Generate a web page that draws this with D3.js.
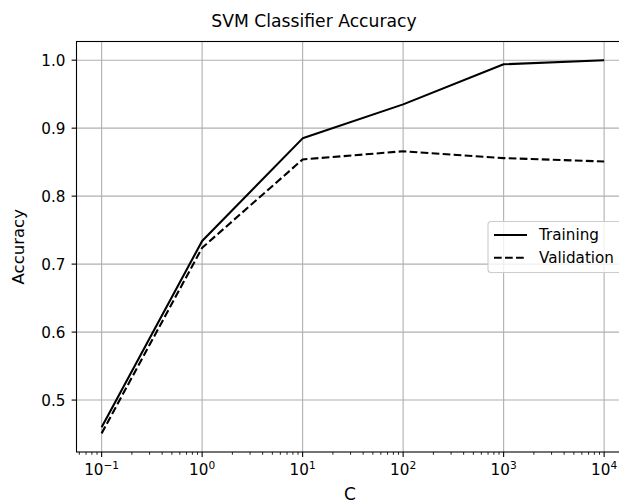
<!DOCTYPE html>
<html>
<head>
<meta charset="utf-8">
<script src="https://cdn.jsdelivr.net/npm/d3@7"></script>
<style>
  html, body { margin: 0; padding: 0; background: #fff; }
  svg { display: block; font-family: "DejaVu Sans", sans-serif; }
</style>
</head>
<body>
<svg id="chart" width="619" height="504"></svg>
<script>
// Regularisation strength C and the accuracy of the SVM at each value
const cValues = [0.1, 1, 10, 100, 1000, 10000];
const trainingAcc = [0.460, 0.734, 0.885, 0.935, 0.994, 1.000];
const validationAcc = [0.451, 0.724, 0.854, 0.866, 0.856, 0.851];
const yTicks = [0.5, 0.6, 0.7, 0.8, 0.9, 1.0];
const xTickExponents = [-1, 0, 1, 2, 3, 4];
const seriesNames = ["Training", "Validation"];

const svg = d3.select("#chart");
const plot = { left: 76.5, right: 629.25, top: 41.5, bottom: 452 };

const x = d3.scaleLog().domain([Math.pow(10, -1.25), Math.pow(10, 4.25)])
  .range([plot.left, plot.right]);
const y = d3.scaleLinear().domain([0.4236, 1.0275]).range([plot.bottom, plot.top]);

const gridColor = "#b0b0b0";
const tickFont = 15.2;

// grid lines
const grid = svg.append("g");
xTickExponents.forEach(e => {
  const px = x(Math.pow(10, e));
  grid.append("line").attr("x1", px).attr("x2", px)
    .attr("y1", plot.top).attr("y2", plot.bottom)
    .attr("stroke", gridColor).attr("stroke-width", 1.1);
});
yTicks.forEach(v => {
  grid.append("line").attr("x1", plot.left).attr("x2", plot.right)
    .attr("y1", y(v)).attr("y2", y(v))
    .attr("stroke", gridColor).attr("stroke-width", 1.1);
});

// series lines
const line = d3.line().x(d => x(d[0])).y(d => y(d[1]));
const trainPts = cValues.map((c, i) => [c, trainingAcc[i]]);
const valPts = cValues.map((c, i) => [c, validationAcc[i]]);
svg.append("path").datum(trainPts).attr("d", line)
  .attr("fill", "none").attr("stroke", "#000").attr("stroke-width", 2.1)
  .attr("stroke-linejoin", "round");
svg.append("path").datum(valPts).attr("d", line)
  .attr("fill", "none").attr("stroke", "#000").attr("stroke-width", 2.1)
  .attr("stroke-dasharray", "7.7,3.33");

// spines
const spines = svg.append("g").attr("stroke", "#000").attr("stroke-width", 1.1)
  .attr("fill", "none");
spines.append("rect").attr("x", plot.left).attr("y", plot.top)
  .attr("width", plot.right - plot.left).attr("height", plot.bottom - plot.top);

// x axis ticks
const xAxis = svg.append("g");
const minor = [];
for (let e = -2; e <= 4; e++) {
  for (let k = 2; k <= 9; k++) {
    const v = k * Math.pow(10, e);
    if (x(v) >= plot.left && x(v) <= plot.right) minor.push(v);
  }
}
minor.forEach(v => {
  xAxis.append("line").attr("x1", x(v)).attr("x2", x(v))
    .attr("y1", plot.bottom).attr("y2", plot.bottom + 2.8)
    .attr("stroke", "#000").attr("stroke-width", 0.84);
});
xTickExponents.forEach(e => {
  const px = x(Math.pow(10, e));
  xAxis.append("line").attr("x1", px).attr("x2", px)
    .attr("y1", plot.bottom).attr("y2", plot.bottom + 4.9)
    .attr("stroke", "#000").attr("stroke-width", 1.1);
  const t = xAxis.append("text").attr("x", px).attr("y", plot.bottom + 23)
    .attr("text-anchor", "middle").attr("font-size", tickFont).attr("fill", "#000");
  t.append("tspan").text("10");
  t.append("tspan").attr("dy", -6).attr("font-size", 10.6)
    .text(e < 0 ? "\u2212" + Math.abs(e) : String(e));
});

// y axis ticks
const yAxis = svg.append("g");
yTicks.forEach(v => {
  yAxis.append("line").attr("x1", plot.left - 4.9).attr("x2", plot.left)
    .attr("y1", y(v)).attr("y2", y(v))
    .attr("stroke", "#000").attr("stroke-width", 1.1);
  yAxis.append("text").attr("x", plot.left - 11).attr("y", y(v))
    .attr("dy", "0.36em").attr("text-anchor", "end")
    .attr("font-size", tickFont).attr("fill", "#000").text(d3.format(".1f")(v));
});

// axis labels and title
svg.append("text").attr("x", (plot.left + plot.right) / 2 - 3).attr("y", 500)
  .attr("text-anchor", "middle").attr("font-size", 17).attr("fill", "#000").text("C");
svg.append("text")
  .attr("transform", `translate(24,${(plot.top + plot.bottom) / 2}) rotate(-90)`)
  .attr("text-anchor", "middle").attr("font-size", 16.5).attr("fill", "#000")
  .text("Accuracy");
svg.append("text").attr("x", 314).attr("y", 27)
  .attr("text-anchor", "middle").attr("font-size", 17.2).attr("fill", "#000")
  .text("SVM Classifier Accuracy");

// legend
const legend = svg.append("g");
legend.append("rect").attr("x", 488).attr("y", 221.5)
  .attr("width", 136).attr("height", 51).attr("rx", 3)
  .attr("fill", "#fff").attr("fill-opacity", 0.8)
  .attr("stroke", "#cccccc").attr("stroke-width", 1.1);
const dashes = [null, "7.7,3.33"];
seriesNames.forEach((name, i) => {
  const ly = 235 + i * 22.7;
  const l = legend.append("line").attr("x1", 494).attr("x2", 527)
    .attr("y1", ly).attr("y2", ly)
    .attr("stroke", "#000").attr("stroke-width", 2.1);
  if (dashes[i]) l.attr("stroke-dasharray", dashes[i]);
  legend.append("text").attr("x", 539).attr("y", ly).attr("dy", "0.36em")
    .attr("font-size", tickFont).attr("fill", "#000").text(name);
});
</script>
</body>
</html>
